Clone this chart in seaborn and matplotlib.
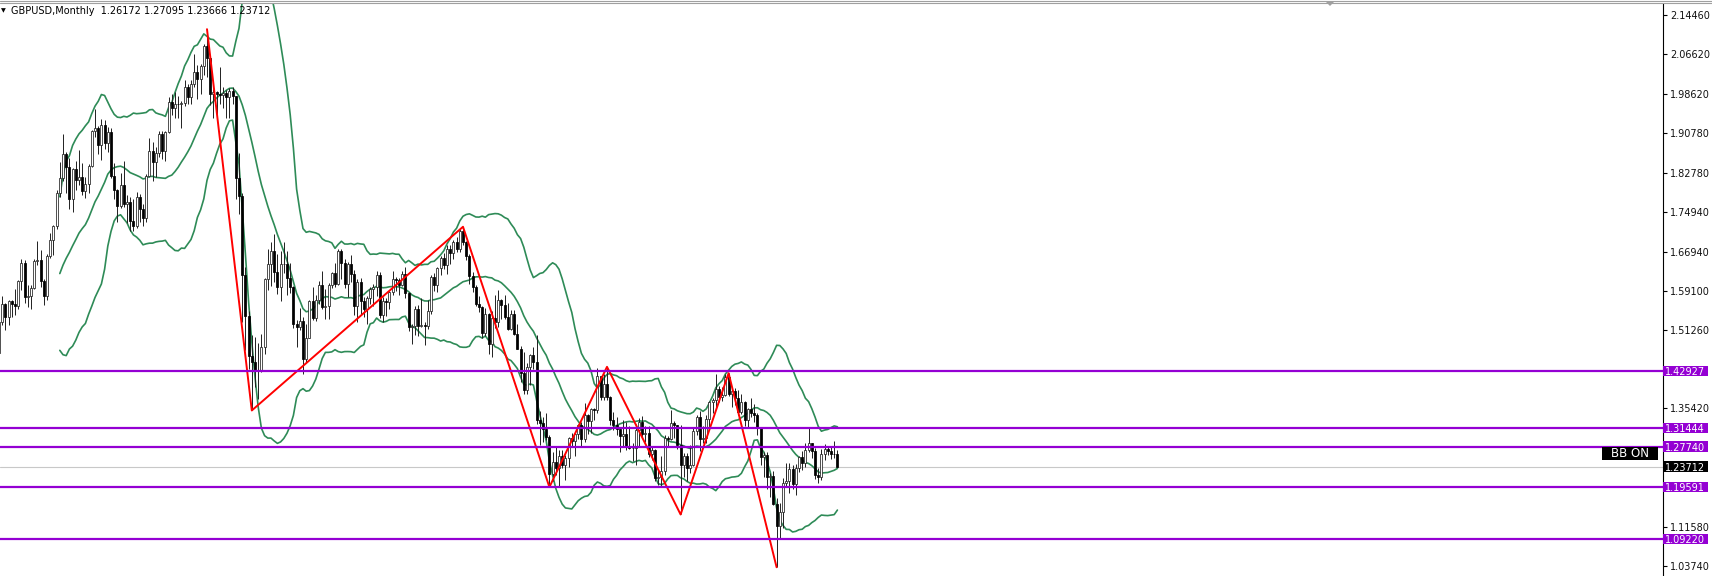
import numpy as np
import pandas as pd
import matplotlib
matplotlib.use("Agg")
import matplotlib.pyplot as plt
import matplotlib.transforms as mtransforms
from matplotlib.patches import Rectangle, Polygon
from matplotlib.lines import Line2D
import seaborn as sns

# ---------------- data: GBPUSD monthly, Jun 2002 .. Apr 2024 ----------------
opens = [
    1.4660, 1.5280, 1.5640, 1.5380, 1.5690, 1.5640, 1.5600,
    1.6100, 1.6460, 1.5780, 1.5800, 1.5970, 1.6500, 1.6520, 1.6110, 1.5790, 1.6600, 1.6920, 1.7200,
    1.7860, 1.8180, 1.8660, 1.8400, 1.7740, 1.8350, 1.8130, 1.8200, 1.7910, 1.8060, 1.8420, 1.9110,
    1.9180, 1.8840, 1.9240, 1.8880, 1.9090, 1.8220, 1.7920, 1.7600, 1.8040, 1.7640, 1.7690, 1.7310,
    1.7200, 1.7790, 1.7540, 1.7370, 1.8220, 1.8720, 1.8490, 1.8680, 1.9060, 1.8720, 1.9100, 1.9690,
    1.9580, 1.9660, 1.9650, 1.9680, 1.9990, 1.9790, 2.0060, 2.0300, 2.0160, 2.0430, 2.0830, 2.0590,
    1.9850, 1.9890, 1.9860, 1.9840, 1.9880, 1.9800, 1.9910, 1.9810, 1.8170, 1.7800, 1.6220, 1.5390,
    1.4590, 1.4480, 1.4310, 1.4320, 1.4780, 1.6150, 1.6450, 1.6700, 1.6290, 1.5980, 1.6450, 1.6450,
    1.6160, 1.5980, 1.5230, 1.5170, 1.5300, 1.4530, 1.4960, 1.5700, 1.5350, 1.5720, 1.6020, 1.5570,
    1.5600, 1.6020, 1.6270, 1.6040, 1.6700, 1.6460, 1.6050, 1.6440, 1.6240, 1.5600, 1.6080, 1.5690,
    1.5530, 1.5760, 1.5940, 1.5990, 1.6230, 1.5410, 1.5690, 1.5680, 1.5880, 1.6150, 1.6130, 1.6020,
    1.6250, 1.5860, 1.5170, 1.5190, 1.5530, 1.5200, 1.5210, 1.5200, 1.5500, 1.6190, 1.6030, 1.6370,
    1.6560, 1.6430, 1.6750, 1.6670, 1.6880, 1.6740, 1.7110, 1.6880, 1.6600, 1.6210, 1.5990, 1.5640,
    1.5580, 1.5050, 1.5430, 1.4830, 1.5350, 1.5280, 1.5710, 1.5620, 1.5370, 1.5130, 1.5430, 1.5040,
    1.4740, 1.4250, 1.3920, 1.4370, 1.4610, 1.4480, 1.3310, 1.3240, 1.3130, 1.2970, 1.2230, 1.2470,
    1.2340, 1.2580, 1.2410, 1.2550, 1.2950, 1.2890, 1.3020, 1.3210, 1.2920, 1.3400, 1.3280, 1.3520,
    1.3500, 1.4190, 1.3770, 1.4030, 1.3770, 1.3300, 1.3200, 1.3120, 1.2990, 1.3030, 1.2770, 1.2740,
    1.2750, 1.3110, 1.3260, 1.3030, 1.3040, 1.2620, 1.2700, 1.2150, 1.2160, 1.2290, 1.2940, 1.2930,
    1.3250, 1.3200, 1.2810, 1.2410, 1.2590, 1.2350, 1.2400, 1.3090, 1.3370, 1.2920, 1.2940, 1.3330,
    1.3670, 1.3710, 1.3930, 1.3780, 1.3810, 1.4180, 1.3830, 1.3900, 1.3760, 1.3470, 1.3680, 1.3300,
    1.3530, 1.3440, 1.3410, 1.3140, 1.2570, 1.2600, 1.2170, 1.2180, 1.1630, 1.1170, 1.1470, 1.2050,
    1.2090, 1.2320, 1.2020, 1.2340, 1.2570, 1.2440, 1.2700, 1.2840, 1.2680, 1.2200, 1.2160, 1.2620,
    1.2730, 1.2690, 1.2630, 1.26172,
]
highs = [
    1.5350, 1.5800, 1.5660, 1.5720, 1.5710, 1.5940, 1.6120,
    1.6550, 1.6530, 1.6030, 1.6020, 1.6540, 1.6900, 1.6720, 1.6150, 1.6650, 1.7070, 1.7230, 1.7920,
    1.8500, 1.9050, 1.8700, 1.8580, 1.8370, 1.8520, 1.8740, 1.8480, 1.8200, 1.8450, 1.9140, 1.9550,
    1.9220, 1.9360, 1.9330, 1.9200, 1.9180, 1.8480, 1.7950, 1.8270, 1.8510, 1.7830, 1.7780, 1.7740,
    1.7890, 1.7850, 1.7640, 1.8260, 1.8970, 1.8890, 1.8790, 1.9110, 1.9110, 1.9120, 1.9790, 1.9850,
    1.9890, 1.9810, 1.9710, 2.0130, 2.0050, 2.0140, 2.0660, 2.0440, 2.0470, 2.0870, 2.1161, 2.0620,
    1.9950, 1.9910, 2.0400, 2.0000, 1.9930, 1.9980, 2.0000, 1.9820, 1.8670, 1.7870, 1.6390, 1.5500,
    1.5020, 1.4970, 1.4860, 1.5040, 1.6170, 1.6740, 1.6880, 1.7040, 1.6650, 1.6710, 1.6880, 1.6700,
    1.6460, 1.6000, 1.5310, 1.5560, 1.5380, 1.5230, 1.5720, 1.5990, 1.5830, 1.6100, 1.6300, 1.5940,
    1.6060, 1.6280, 1.6460, 1.6740, 1.6750, 1.6550, 1.6480, 1.6620, 1.6320, 1.6140, 1.6170, 1.5780,
    1.5800, 1.5990, 1.6050, 1.6300, 1.6280, 1.5780, 1.5760, 1.5910, 1.6310, 1.6180, 1.6170, 1.6310,
    1.6380, 1.5880, 1.5240, 1.5600, 1.5610, 1.5750, 1.5280, 1.5720, 1.6220, 1.6260, 1.6390, 1.6600,
    1.6670, 1.6820, 1.6820, 1.6920, 1.6990, 1.7140, 1.7191, 1.6900, 1.6640, 1.6290, 1.6030, 1.5790,
    1.5590, 1.5550, 1.5450, 1.5500, 1.5820, 1.5930, 1.5740, 1.5820, 1.5660, 1.5510, 1.5520, 1.5240,
    1.4800, 1.4670, 1.4460, 1.4640, 1.4770, 1.5020, 1.3480, 1.3370, 1.3440, 1.3000, 1.2670, 1.2780,
    1.2710, 1.2710, 1.2610, 1.2960, 1.3050, 1.3030, 1.3230, 1.3270, 1.3660, 1.3420, 1.3550, 1.3550,
    1.4350, 1.4200, 1.4240, 1.4377, 1.3800, 1.3470, 1.3360, 1.3130, 1.3300, 1.3260, 1.3180, 1.2840,
    1.3220, 1.3350, 1.3380, 1.3190, 1.3180, 1.2780, 1.2720, 1.2310, 1.2580, 1.3010, 1.2990, 1.3510,
    1.3290, 1.3210, 1.3200, 1.2650, 1.2650, 1.2810, 1.3170, 1.3400, 1.3480, 1.3180, 1.3400, 1.3700,
    1.3760, 1.4240, 1.4000, 1.3970, 1.4230, 1.4250, 1.3980, 1.3960, 1.3910, 1.3830, 1.3700, 1.3540,
    1.3750, 1.3640, 1.3440, 1.3170, 1.2670, 1.2670, 1.2250, 1.2290, 1.1740, 1.1640, 1.2150, 1.2450,
    1.2450, 1.2400, 1.2420, 1.2580, 1.2680, 1.2850, 1.3140, 1.2850, 1.2750, 1.2340, 1.2730, 1.2830,
    1.2780, 1.2770, 1.2890, 1.27095,
]
lows = [
    1.4580, 1.5210, 1.5110, 1.5220, 1.5380, 1.5420, 1.5540,
    1.5920, 1.5660, 1.5580, 1.5530, 1.5950, 1.6430, 1.5990, 1.5610, 1.5720, 1.6560, 1.6630, 1.7150,
    1.7780, 1.8120, 1.7870, 1.7550, 1.7480, 1.7930, 1.8040, 1.7830, 1.7760, 1.7860, 1.8390, 1.9000,
    1.8650, 1.8540, 1.8760, 1.8690, 1.8170, 1.7750, 1.7280, 1.7570, 1.7590, 1.7260, 1.7100, 1.7110,
    1.7170, 1.7280, 1.7200, 1.7280, 1.8200, 1.8110, 1.8200, 1.8600, 1.8550, 1.8510, 1.9070, 1.9430,
    1.9380, 1.9380, 1.9180, 1.9610, 1.9660, 1.9650, 2.0000, 1.9750, 1.9850, 2.0250, 2.0210, 1.9640,
    1.9370, 1.9360, 1.9660, 1.9580, 1.9380, 1.9370, 1.9660, 1.7750, 1.7440, 1.5270, 1.4720, 1.4330,
    1.3500, 1.3980, 1.3730, 1.4280, 1.4640, 1.5920, 1.6000, 1.6090, 1.5840, 1.5700, 1.6260, 1.5820,
    1.5870, 1.5150, 1.4780, 1.5110, 1.4230, 1.4470, 1.4950, 1.5320, 1.5290, 1.5640, 1.5530, 1.5340,
    1.5340, 1.5960, 1.5980, 1.6030, 1.6140, 1.5960, 1.5780, 1.6080, 1.5420, 1.5270, 1.5420, 1.5370,
    1.5230, 1.5630, 1.5600, 1.5810, 1.5360, 1.5270, 1.5390, 1.5530, 1.5830, 1.5910, 1.5830, 1.6000,
    1.5750, 1.5100, 1.4830, 1.5020, 1.4990, 1.5180, 1.4810, 1.5140, 1.5430, 1.5900, 1.5880, 1.6220,
    1.6350, 1.6250, 1.6450, 1.6540, 1.6690, 1.6690, 1.6820, 1.6530, 1.6050, 1.5880, 1.5590, 1.5480,
    1.4950, 1.5000, 1.4630, 1.4570, 1.5160, 1.5170, 1.5330, 1.5330, 1.5110, 1.5110, 1.5020, 1.4730,
    1.4080, 1.3840, 1.3830, 1.4010, 1.4330, 1.3220, 1.2800, 1.2860, 1.2910, 1.1960, 1.2080, 1.2200,
    1.1990, 1.2350, 1.2110, 1.2370, 1.2770, 1.2590, 1.2930, 1.2770, 1.2870, 1.3030, 1.3040, 1.3300,
    1.3450, 1.3710, 1.3710, 1.3710, 1.3200, 1.3100, 1.3010, 1.2660, 1.2790, 1.2700, 1.2720, 1.2480,
    1.2400, 1.2770, 1.2960, 1.2870, 1.2560, 1.2510, 1.2080, 1.2010, 1.1960, 1.2200, 1.2770, 1.2900,
    1.2950, 1.2720, 1.1410, 1.2160, 1.2080, 1.2250, 1.2390, 1.3010, 1.2680, 1.2850, 1.2850, 1.3130,
    1.3450, 1.3560, 1.3670, 1.3690, 1.3800, 1.3790, 1.3570, 1.3600, 1.3410, 1.3430, 1.3190, 1.3160,
    1.3360, 1.3270, 1.3000, 1.2410, 1.2160, 1.1930, 1.1760, 1.1600, 1.0350, 1.0930, 1.1140, 1.1990,
    1.1840, 1.1920, 1.1800, 1.2270, 1.2310, 1.2370, 1.2660, 1.2550, 1.2120, 1.2040, 1.2100, 1.2500,
    1.2600, 1.2520, 1.2540, 1.23666,
]
closes = [
    1.5280, 1.5640, 1.5380, 1.5690, 1.5640, 1.5600, 1.6100,
    1.6460, 1.5780, 1.5800, 1.5970, 1.6500, 1.6520, 1.6110, 1.5790, 1.6600, 1.6920, 1.7200, 1.7860,
    1.8180, 1.8660, 1.8400, 1.7740, 1.8350, 1.8130, 1.8200, 1.7910, 1.8060, 1.8420, 1.9110, 1.9180,
    1.8840, 1.9240, 1.8880, 1.9090, 1.8220, 1.7920, 1.7600, 1.8040, 1.7640, 1.7690, 1.7310, 1.7200,
    1.7790, 1.7540, 1.7370, 1.8220, 1.8720, 1.8490, 1.8680, 1.9060, 1.8720, 1.9100, 1.9690, 1.9580,
    1.9660, 1.9650, 1.9680, 1.9990, 1.9790, 2.0060, 2.0300, 2.0160, 2.0430, 2.0830, 2.0590, 1.9850,
    1.9890, 1.9860, 1.9840, 1.9880, 1.9800, 1.9910, 1.9810, 1.8170, 1.7800, 1.6220, 1.5390, 1.4590,
    1.4480, 1.4310, 1.4320, 1.4780, 1.6150, 1.6450, 1.6700, 1.6290, 1.5980, 1.6450, 1.6450, 1.6160,
    1.5980, 1.5230, 1.5170, 1.5300, 1.4530, 1.4960, 1.5700, 1.5350, 1.5720, 1.6020, 1.5570, 1.5600,
    1.6020, 1.6270, 1.6040, 1.6700, 1.6460, 1.6050, 1.6440, 1.6240, 1.5600, 1.6080, 1.5690, 1.5530,
    1.5760, 1.5940, 1.5990, 1.6230, 1.5410, 1.5690, 1.5680, 1.5880, 1.6150, 1.6130, 1.6020, 1.6250,
    1.5860, 1.5170, 1.5190, 1.5530, 1.5200, 1.5210, 1.5200, 1.5500, 1.6190, 1.6030, 1.6370, 1.6560,
    1.6430, 1.6750, 1.6670, 1.6880, 1.6740, 1.7110, 1.6880, 1.6600, 1.6210, 1.5990, 1.5640, 1.5580,
    1.5050, 1.5430, 1.4830, 1.5350, 1.5280, 1.5710, 1.5620, 1.5370, 1.5130, 1.5430, 1.5040, 1.4740,
    1.4250, 1.3920, 1.4370, 1.4610, 1.4480, 1.3310, 1.3240, 1.3130, 1.2970, 1.2230, 1.2470, 1.2340,
    1.2580, 1.2410, 1.2550, 1.2950, 1.2890, 1.3020, 1.3210, 1.2920, 1.3400, 1.3280, 1.3520, 1.3500,
    1.4190, 1.3770, 1.4030, 1.3770, 1.3300, 1.3200, 1.3120, 1.2990, 1.3030, 1.2770, 1.2740, 1.2750,
    1.3110, 1.3260, 1.3030, 1.3040, 1.2620, 1.2700, 1.2150, 1.2160, 1.2290, 1.2940, 1.2930, 1.3250,
    1.3200, 1.2810, 1.2410, 1.2590, 1.2350, 1.2400, 1.3090, 1.3370, 1.2920, 1.2940, 1.3330, 1.3670,
    1.3710, 1.3930, 1.3780, 1.3810, 1.4180, 1.3830, 1.3900, 1.3760, 1.3470, 1.3680, 1.3300, 1.3530,
    1.3440, 1.3410, 1.3140, 1.2570, 1.2600, 1.2170, 1.2180, 1.1630, 1.1170, 1.1470, 1.2050, 1.2090,
    1.2320, 1.2020, 1.2340, 1.2570, 1.2440, 1.2700, 1.2840, 1.2680, 1.2200, 1.2160, 1.2620, 1.2730,
    1.2690, 1.2630, 1.2620, 1.23712,
]

# ZigZag turning points (bar index, 'H' = swing high / 'L' = swing low)
zigzag_bars = [65, 79, 145, 172, 190, 213, 228, 243]
zigzag_kind = ['H', 'L', 'H', 'L', 'H', 'L', 'H', 'L']

# horizontal levels
levels = [1.42927, 1.31444, 1.27740, 1.19591, 1.09220]
current_price = 1.23712
tick_values = [2.14460, 2.06620, 1.98620, 1.90780, 1.82780, 1.74940, 1.66940,
               1.59100, 1.51260, 1.35420, 1.11580, 1.03740]
header = "GBPUSD,Monthly  1.26172 1.27095 1.23666 1.23712"
bb_period, bb_dev = 20, 2

# ---------------- figure ----------------
sns.set_theme(style="white")
plt.rcParams['font.family'] = ['DejaVu Sans']

W, H = 1712, 576
fig = plt.figure(figsize=(W / 100, H / 100), dpi=100)
fig.patch.set_facecolor("white")
AX_RIGHT = 1663
AX_TOP = 4
ax = fig.add_axes([0, 0, AX_RIGHT / W, (H - AX_TOP) / H])
ax.set_facecolor("white")

bar_px = 3.2
xmin = 0.3125
ax.set_xlim(xmin, xmin + AX_RIGHT / bar_px)
ymax = 2.1667
ymin = ymax - (H - AX_TOP) / 497.7
ax.set_ylim(ymin, ymax)

o = np.array(opens); h = np.array(highs); l = np.array(lows); c = np.array(closes)
idx = np.arange(len(c))

# current price line
ax.axhline(current_price, color="#C8C8C8", lw=0.8, zorder=1)

# Bollinger bands
s = pd.Series(c)
mid = s.rolling(bb_period).mean()
sd = s.rolling(bb_period).std(ddof=0)
bands = pd.DataFrame({"bar": idx, "upper": mid + bb_dev * sd, "mid": mid, "lower": mid - bb_dev * sd})
for col in ["upper", "mid", "lower"]:
    sns.lineplot(data=bands, x="bar", y=col, ax=ax, color="#2E8B57", lw=1.2, zorder=2)

# candles
ax.vlines(idx, l, h, color="#202020", lw=0.7, zorder=3)
up = c >= o
ax.bar(idx[up], (c - o)[up], bottom=o[up], width=0.66, facecolor="white",
       edgecolor="#202020", linewidth=0.55, zorder=4)
ax.bar(idx[~up], (o - c)[~up], bottom=c[~up], width=0.66, facecolor="black",
       edgecolor="black", linewidth=0.55, zorder=4)

# zigzag
zz = pd.DataFrame({"bar": zigzag_bars,
                   "price": [h[b] if k == 'H' else l[b] for b, k in zip(zigzag_bars, zigzag_kind)]})
sns.lineplot(data=zz, x="bar", y="price", ax=ax, color="#FF0000", lw=1.4, sort=False, zorder=5)

# purple levels
for lv in levels:
    ax.axhline(lv, color="#9400D3", lw=1.6, zorder=6)

ax.set_xlabel("")
ax.set_ylabel("")
ax.set_xticks([])

# right axis
ax.yaxis.tick_right()
ax.set_yticks(tick_values)
ax.set_yticklabels([f"{v:.5f}" for v in tick_values])
ax.tick_params(axis="y", which="both", right=True, left=False, length=3, width=0.8,
               color="black", labelsize=7, pad=2, labelcolor="#111111")
for sp in ["left", "top", "bottom"]:
    ax.spines[sp].set_visible(False)
ax.spines["right"].set_visible(True)
ax.spines["right"].set_color("black")
ax.spines["right"].set_linewidth(0.8)

# price label boxes on the axis
blend = mtransforms.blended_transform_factory(ax.transAxes, ax.transData)
box_w = 45 / AX_RIGHT
box_h = 10.5 / 497.7
def price_label(p, fc):
    ax.add_patch(Rectangle((1.0, p - box_h / 2), box_w, box_h, transform=blend,
                           facecolor=fc, edgecolor="none", clip_on=False, zorder=10))
    ax.annotate(f"{p:.5f}", xy=(1.0, p), xycoords=blend, xytext=(1.6, 0),
                textcoords="offset points", ha="left", va="center_baseline",
                fontsize=7, color="white", zorder=11, annotation_clip=False)
for lv in levels:
    price_label(lv, "#9400D3")
price_label(current_price, "black")

# BB ON badge
fig.add_artist(Rectangle((1602 / W, 1 - 460 / H), 56 / W, 13 / H,
                         transform=fig.transFigure, facecolor="black", edgecolor="none"))
fig.text(1630 / W, 1 - 453.5 / H, "BB ON", color="white", fontsize=8.5,
         ha="center", va="center")

# header
fig.text(1 / W, 1 - 11 / H, "\u25BC", fontsize=4.5, va="center", ha="left", color="black")
fig.text(11 / W, 1 - 11 / H, header, fontsize=7, va="center", ha="left", color="black")

# top border lines and chart-shift marker
for yy in (0.5, 2.5):
    fig.add_artist(Line2D([0, 1], [1 - yy / H, 1 - yy / H], transform=fig.transFigure,
                          color="#A0A0A0", lw=0.8))
fig.add_artist(Polygon([(1325 / W, 1 - 1 / H), (1335 / W, 1 - 1 / H), (1330 / W, 1 - 6 / H)],
                       closed=True, transform=fig.transFigure, facecolor="#A0A0A0",
                       edgecolor="none"))

fig.savefig("out.png", dpi=100, facecolor="white")
